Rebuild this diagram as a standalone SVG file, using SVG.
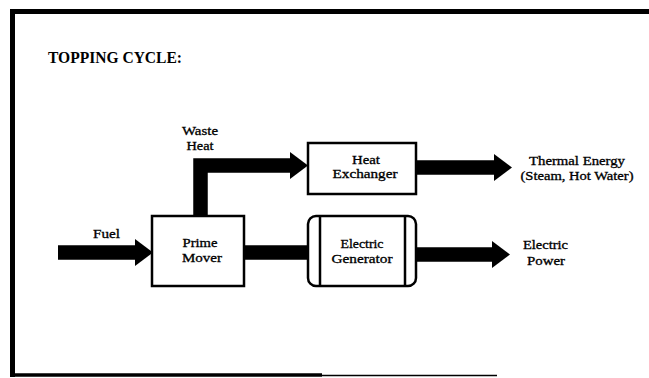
<svg xmlns="http://www.w3.org/2000/svg" width="649" height="378" viewBox="0 0 649 378">
  <style>
    .box { fill: #fff; stroke: #000; stroke-width: 2.5; }
    .flow { fill: none; stroke: #000; stroke-width: 14.5; stroke-linejoin: miter; }
    .lbl { font-family: "Liberation Serif", "Times New Roman", serif; font-size: 12px; fill: #000; stroke: #000; stroke-width: 0.3; }
    .mid { text-anchor: middle; }
    .title { font-family: "Liberation Serif", "Times New Roman", serif; font-size: 16px; font-weight: bold; fill: #000; }
    .frame { fill: none; stroke: #000; }
  </style>
  <defs>
    <marker id="head" markerUnits="userSpaceOnUse" markerWidth="18" markerHeight="27" refX="0" refY="13.5" orient="auto" overflow="visible">
      <path d="M0,0 L18,13.5 L0,27 Z" fill="#000"/>
    </marker>
  </defs>

  <rect width="649" height="378" fill="#fff"/>

  <!-- page frame: left, top and bottom rules -->
  <g id="frame">
    <path class="frame" d="M12.5,377 V11.5 H649" stroke-width="5"/>
    <path class="frame" d="M10,375 H322" stroke-width="3.5"/>
    <path class="frame" d="M322,375.5 H497" stroke-width="1.5"/>
  </g>

  <text class="title" x="48" y="63" textLength="134" lengthAdjust="spacingAndGlyphs">TOPPING CYCLE:</text>

  <!-- energy flows -->
  <g id="connectors">
    <path class="flow" d="M58,252.5 H135" marker-end="url(#head)"/>
    <path class="flow" d="M244,252.5 H308"/>
    <path class="flow" d="M200.5,216 V165.5 H290" marker-end="url(#head)"/>
    <path class="flow" d="M416,167.5 H494" marker-end="url(#head)"/>
    <path class="flow" d="M416,254.5 H492" marker-end="url(#head)"/>
  </g>

  <g id="prime-mover">
    <rect class="box" x="152" y="216" width="92" height="70"/>
    <text class="lbl mid" x="200" y="247" textLength="35" lengthAdjust="spacingAndGlyphs">Prime</text>
    <text class="lbl mid" x="202" y="262" textLength="40" lengthAdjust="spacingAndGlyphs">Mover</text>
  </g>

  <g id="heat-exchanger">
    <rect class="box" x="308" y="143" width="108" height="51"/>
    <text class="lbl mid" x="366" y="164" textLength="28" lengthAdjust="spacingAndGlyphs">Heat</text>
    <text class="lbl mid" x="365" y="178" textLength="65" lengthAdjust="spacingAndGlyphs">Exchanger</text>
  </g>

  <g id="electric-generator">
    <rect class="box" x="308" y="216" width="108" height="70" rx="8"/>
    <path d="M320,216 V286 M405,216 V286" stroke="#000" stroke-width="2.5"/>
    <text class="lbl mid" x="362" y="248" textLength="43" lengthAdjust="spacingAndGlyphs">Electric</text>
    <text class="lbl mid" x="362" y="263" textLength="61" lengthAdjust="spacingAndGlyphs">Generator</text>
  </g>

  <g id="fuel">
    <text class="lbl" x="93" y="238" textLength="27" lengthAdjust="spacingAndGlyphs">Fuel</text>
  </g>

  <g id="waste-heat">
    <text class="lbl mid" x="200" y="135" textLength="36" lengthAdjust="spacingAndGlyphs">Waste</text>
    <text class="lbl mid" x="200" y="150" textLength="27" lengthAdjust="spacingAndGlyphs">Heat</text>
  </g>

  <g id="thermal-energy">
    <text class="lbl mid" x="577" y="165" textLength="96" lengthAdjust="spacingAndGlyphs">Thermal Energy</text>
    <text class="lbl mid" x="577" y="179.5" textLength="113" lengthAdjust="spacingAndGlyphs">(Steam, Hot Water)</text>
  </g>

  <g id="electric-power">
    <text class="lbl" x="523" y="249" textLength="45" lengthAdjust="spacingAndGlyphs">Electric</text>
    <text class="lbl" x="527" y="265" textLength="38" lengthAdjust="spacingAndGlyphs">Power</text>
  </g>
</svg>
